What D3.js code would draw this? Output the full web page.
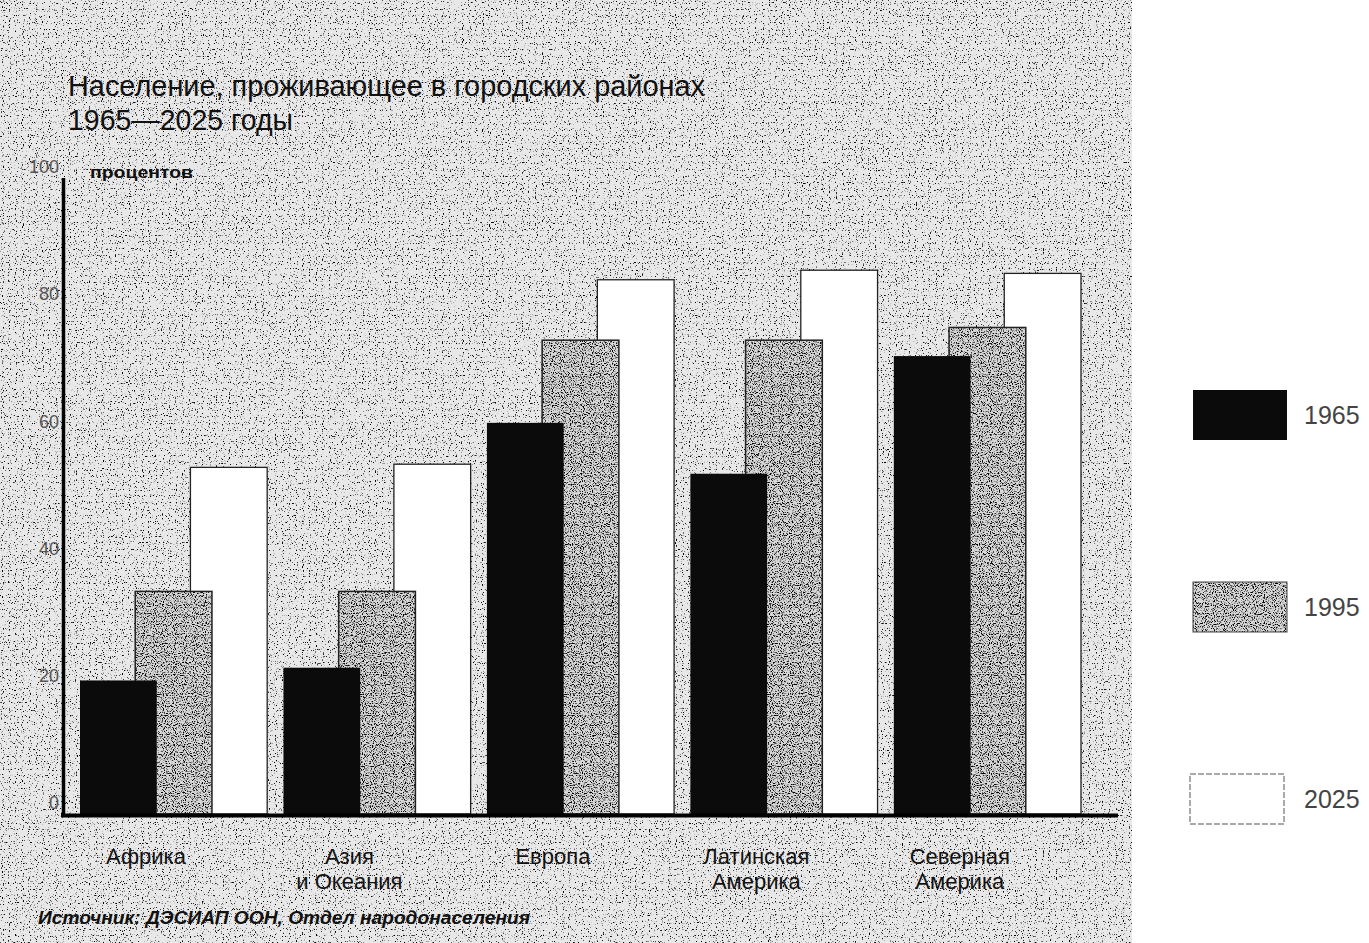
<!DOCTYPE html>
<html>
<head>
<meta charset="utf-8">
<script src="https://cdn.jsdelivr.net/npm/d3@7"></script>
<style>
  html, body { margin: 0; padding: 0; background: #ffffff; }
  svg { display: block; }
  text { font-family: "Liberation Sans", Arial, sans-serif; }
</style>
</head>
<body>
<svg id="chart" width="1369" height="943"></svg>
<script>
// ---------------- data ----------------
const categories = ["Африка", "Азия\nи Океания", "Европа", "Латинская\nАмерика", "Северная\nАмерика"];
const years = ["1965", "1995", "2025"];
const values1965 = [21, 23, 61.5, 53.5, 72];
const values1995 = [35, 35, 74.5, 74.5, 76.5];
const values2025 = [54.5, 55, 84, 85.5, 85];
const yTicks = [0, 20, 40, 60, 80, 100];
const titleLines = ["Население, проживающее в городских районах", "1965—2025 годы"];
const yUnit = "процентов";
const sourceText = "Источник: ДЭСИАП ООН, Отдел народонаселения";

const series = [values1965, values1995, values2025];

// ---------------- setup ----------------
const svg = d3.select("#chart");
const W = 1369, H = 943;

const defs = svg.append("defs");
function speckFilter(id, slope, intercept, seed, freq) {
  const f = defs.append("filter").attr("id", id)
    .attr("filterUnits", "objectBoundingBox")
    .attr("x", 0).attr("y", 0).attr("width", 1).attr("height", 1);
  f.append("feTurbulence").attr("type", "fractalNoise")
    .attr("baseFrequency", freq).attr("numOctaves", 1).attr("seed", seed).attr("result", "t");
  f.append("feColorMatrix").attr("in", "t").attr("type", "matrix")
    .attr("values", "0 0 0 0 0  0 0 0 0 0  0 0 0 0 0  1 0 0 0 0").attr("result", "m");
  const ct = f.append("feComponentTransfer").attr("in", "m");
  ct.append("feFuncA").attr("type", "linear").attr("slope", slope).attr("intercept", intercept);
}
speckFilter("bgSpeck", 9, -5.5, 3, 0.85);
speckFilter("barSpeck", 6, -3.0, 7, 0.9);

// background texture (scanned page)
svg.append("rect").attr("x", 0).attr("y", 0).attr("width", 1132).attr("height", H).attr("fill", "#e8e8e8");
svg.append("rect").attr("x", 0).attr("y", 0).attr("width", 1132).attr("height", H)
  .attr("fill", "#000").attr("filter", "url(#bgSpeck)");

// ---------------- scales ----------------
const y = d3.scaleLinear().domain([0, 100]).range([814, 178]);
const x0 = d3.scaleBand().domain(categories).range([80, 1081]).paddingInner(0.08).paddingOuter(0);
const barW = x0.bandwidth() * 0.41;
const x1 = d3.scalePoint().domain(years).range([0, x0.bandwidth() - barW]);

// ---------------- bars ----------------
const groups = svg.append("g").selectAll("g.cat")
  .data(categories)
  .join("g").attr("class", "cat")
  .attr("transform", d => `translate(${x0(d)},0)`);

groups.each(function (cat, ci) {
  const g = d3.select(this);
  // draw order: 2025 (back), 1995, 1965 (front)
  [2, 1, 0].forEach(si => {
    const v = series[si][ci];
    const bx = x1(years[si]);
    const by = y(v);
    const bh = y(0) - y(v);
    if (si === 2) {
      g.append("rect").attr("x", bx).attr("y", by).attr("width", barW).attr("height", bh)
        .attr("fill", "#ffffff").attr("stroke", "#222").attr("stroke-width", 1.3);
    } else if (si === 1) {
      g.append("rect").attr("x", bx).attr("y", by).attr("width", barW).attr("height", bh)
        .attr("fill", "#d8d8d8");
      g.append("rect").attr("x", bx).attr("y", by).attr("width", barW).attr("height", bh)
        .attr("fill", "#000").attr("filter", "url(#barSpeck)");
      g.append("rect").attr("x", bx).attr("y", by).attr("width", barW).attr("height", bh)
        .attr("fill", "none").attr("stroke", "#222").attr("stroke-width", 1.5);
    } else {
      g.append("rect").attr("x", bx).attr("y", by).attr("width", barW).attr("height", bh)
        .attr("fill", "#0b0b0b");
    }
  });
});

// ---------------- axes ----------------
const yAxis = d3.axisLeft(y).tickValues(yTicks).tickSize(0).tickPadding(3).tickFormat(d3.format("d"));
const yG = svg.append("g").attr("transform", "translate(62,0)").call(yAxis);
yG.select(".domain").remove();
yG.selectAll("text")
  .attr("dy", "-0.3em")
  .attr("fill", "#555")
  .style("font-size", "18px")
  .style("font-family", "'Liberation Sans', Arial, sans-serif");

// axis lines (thick L)
svg.append("line").attr("x1", 63.5).attr("x2", 63.5).attr("y1", y(100)).attr("y2", 817)
  .attr("stroke", "#000").attr("stroke-width", 3.5);
svg.append("line").attr("x1", 61).attr("x2", 1118).attr("y1", 815.5).attr("y2", 815.5)
  .attr("stroke", "#000").attr("stroke-width", 4);

// x labels
const xLab = svg.append("g");
categories.forEach(cat => {
  const lines = cat.split("\n");
  const cx = x0(cat) + (x1(years[1]) + barW) / 2;
  const t = xLab.append("text").attr("text-anchor", "middle")
    .attr("x", cx).attr("y", 864)
    .attr("fill", "#111").style("font-size", "22px");
  lines.forEach((ln, i) => {
    t.append("tspan").attr("x", cx).attr("dy", i === 0 ? 0 : 25).text(ln);
  });
});

// unit label
svg.append("text").attr("x", 90).attr("y", 178).attr("fill", "#111")
  .style("font-size", "16px").style("font-weight", "bold")
  .attr("textLength", 103).attr("lengthAdjust", "spacingAndGlyphs").text(yUnit);

// title
svg.append("text").attr("x", 68).attr("y", 96).attr("fill", "#111")
  .style("font-size", "30px").attr("textLength", 637).attr("lengthAdjust", "spacingAndGlyphs")
  .text(titleLines[0]);
svg.append("text").attr("x", 68).attr("y", 130).attr("fill", "#111")
  .style("font-size", "30px").attr("textLength", 225).attr("lengthAdjust", "spacingAndGlyphs")
  .text(titleLines[1]);

// source
svg.append("text").attr("x", 38).attr("y", 924).attr("fill", "#111")
  .style("font-size", "18px").style("font-style", "italic").style("font-weight", "bold")
  .attr("textLength", 492).attr("lengthAdjust", "spacingAndGlyphs")
  .text(sourceText);

// ---------------- legend ----------------
const legY = d3.scalePoint().domain(years).range([415, 799]);
const leg = svg.append("g");
years.forEach((yr, i) => {
  const cy = legY(yr);
  const lx = i === 2 ? 1190 : 1193;
  if (i === 0) {
    leg.append("rect").attr("x", lx).attr("y", cy - 25).attr("width", 94).attr("height", 50).attr("fill", "#0b0b0b");
  } else if (i === 1) {
    leg.append("rect").attr("x", lx).attr("y", cy - 25).attr("width", 94).attr("height", 50).attr("fill", "#d8d8d8");
    leg.append("rect").attr("x", lx).attr("y", cy - 25).attr("width", 94).attr("height", 50)
      .attr("fill", "#000").attr("filter", "url(#barSpeck)");
    leg.append("rect").attr("x", lx).attr("y", cy - 25).attr("width", 94).attr("height", 50)
      .attr("fill", "none").attr("stroke", "#444").attr("stroke-width", 1);
  } else {
    leg.append("rect").attr("x", lx).attr("y", cy - 25).attr("width", 94).attr("height", 50)
      .attr("fill", "#fff").attr("stroke", "#555").attr("stroke-width", 1).attr("stroke-dasharray", "6,2");
  }
  leg.append("text").attr("x", 1304).attr("y", cy + 9).attr("fill", "#444")
    .style("font-size", "25px").text(yr);
});
</script>
</body>
</html>
